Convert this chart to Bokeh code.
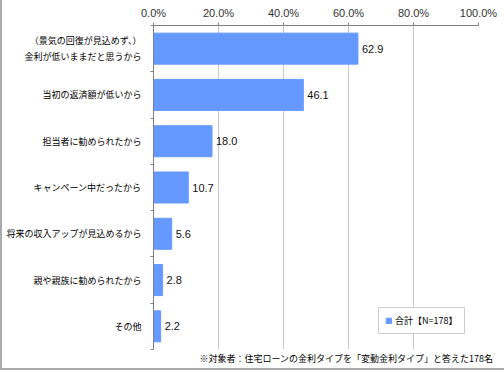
import numpy as np
from bokeh.plotting import figure
from bokeh.models import (ColumnDataSource, LabelSet, Range1d, FixedTicker,
                          PrintfTickFormatter, Legend, LegendItem, Title)
from bokeh.core.properties import value
from bokeh.embed import file_html
from bokeh.resources import INLINE

categories = ["（景気の回復が見込めず、）\n金利が低いままだと思うから",
              "当初の返済額が低いから",
              "担当者に勧められたから",
              "キャンペーン中だったから",
              "将来の収入アップが見込めるから",
              "親や親族に勧められたから",
              "その他"]
values = [62.9, 46.1, 18.0, 10.7, 5.6, 2.8, 2.2]
x_ticks = [0, 20, 40, 60, 80, 100]
series_name = "合計【N=178】"
footnote = "※対象者：住宅ローンの金利タイプを「変動金利タイプ」と答えた178名"

JP = "Noto Sans CJK JP"
LAT = "Liberation Sans"
BAR = "#6699ff"

n = len(categories)
pos = np.arange(n) + 0.5
src = ColumnDataSource(dict(y=pos, v=values,
                            lab=[f"{v:.1f}" for v in values]))

p = figure(frame_width=325, frame_height=324, x_axis_location="above",
           x_range=Range1d(0, 100), y_range=Range1d(n, 0),
           output_backend="svg", toolbar_location=None,
           min_border_left=151, min_border_right=26, min_border_top=25,
           min_border_bottom=19)
p.outline_line_color = None
p.background_fill_color = "white"
p.border_fill_color = "white"

r = p.hbar(y="y", right="v", left=0, height=0.67, source=src,
           fill_color=BAR, line_color=BAR)

# x axis (top)
xa = p.xaxis[0]
xa.ticker = FixedTicker(ticks=x_ticks)
xa.formatter = PrintfTickFormatter(format="%.1f%%")
xa.axis_line_color = "#808080"
xa.major_tick_line_color = "#808080"
xa.major_tick_out = 3
xa.major_tick_in = 0
xa.minor_tick_line_color = None
xa.major_label_text_font = LAT
xa.major_label_text_font_size = "11px"
xa.major_label_text_color = "#333333"
xa.major_label_standoff = 4

# y axis (left): category labels at centres, ticks at boundaries
ya = p.yaxis[0]
ya.ticker = FixedTicker(ticks=list(pos), minor_ticks=list(range(n + 1)))
ya.major_label_overrides = {float(y): c for y, c in zip(pos, categories)}
ya.axis_line_color = "#808080"
ya.major_tick_line_color = None
ya.minor_tick_line_color = "#808080"
ya.minor_tick_out = 3
ya.minor_tick_in = 0
ya.major_tick_out = 0
ya.major_tick_in = 0
ya.major_label_standoff = 9
ya.major_label_text_font = JP
ya.major_label_text_font_size = "9px"
ya.major_label_text_color = "#000000"
ya.major_label_text_line_height = 1.25
ya.major_label_text_align = "right"

p.xgrid.ticker = FixedTicker(ticks=x_ticks)
p.xgrid.grid_line_color = "#c8c8c8"
p.ygrid.grid_line_color = None

# value labels
val_labels = LabelSet(x="v", y="y", text="lab", source=src,
                      x_offset=4, text_align="left", text_baseline="middle",
                      text_font=value(LAT), text_font_size=value("11px"),
                      text_color="#111111")
p.add_layout(val_labels)

# legend
legend = Legend(items=[LegendItem(label=series_name, renderers=[r])],
                location=(225, 15), orientation="horizontal",
                label_text_font=JP, label_text_font_size="9px",
                label_text_color="#000000",
                glyph_width=7, glyph_height=7, label_standoff=3,
                border_line_color="#999999", background_fill_color="white",
                background_fill_alpha=1.0, padding=6, margin=0,
                label_height=11)
p.add_layout(legend)

# footnote
p.add_layout(Title(text=footnote, align="right", offset=-15, standoff=0,
                   text_font=JP, text_font_size="9px",
                   text_font_style="normal", text_color="#000000"), "below")

p.styles = {"border-left": "2px solid #aaaaaa",
            "border-bottom": "2px solid #aaaaaa"}

open("out.html", "w").write(file_html(p, INLINE))
